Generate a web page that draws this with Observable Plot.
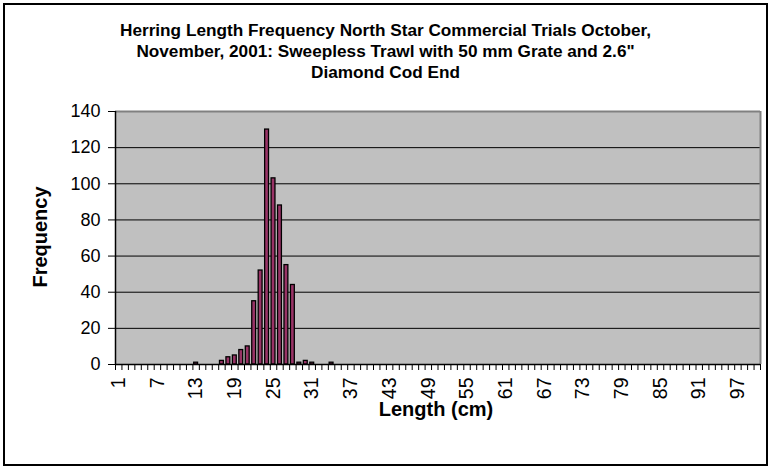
<!DOCTYPE html>
<html><head><meta charset="utf-8">
<script src="https://cdn.jsdelivr.net/npm/d3@7"></script>
<script src="https://cdn.jsdelivr.net/npm/@observablehq/plot@0.6"></script>
<style>
body{margin:0;background:#fff;}
#wrap{position:relative;width:771px;height:469px;font-family:Arial,"Liberation Sans",sans-serif;color:#000;overflow:hidden;}
#chart{position:absolute;left:0;top:0;}
#border{position:absolute;left:3px;top:3px;width:761px;height:459px;border:2px solid #000;pointer-events:none;}
.title{position:absolute;left:0;width:771px;text-align:center;font-weight:bold;font-size:17.2px;line-height:21px;}
.ylab{position:absolute;left:40px;top:237px;transform:translate(-50%,-50%) rotate(-90deg);font-weight:bold;font-size:20px;white-space:nowrap;}
.xlab{position:absolute;left:436px;top:409px;transform:translate(-50%,-50%);font-weight:bold;font-size:20px;white-space:nowrap;}
</style></head>
<body>
<div id="wrap">
  <div id="chart"></div>
  <div id="border"></div>
  <div class="title" style="top:20px">Herring Length Frequency North Star Commercial Trials October,</div>
  <div class="title" style="top:41px">November, 2001: Sweepless Trawl with 50 mm Grate and 2.6"</div>
  <div class="title" style="top:62px">Diamond Cod End</div>
  <div class="ylab">Frequency</div>
  <div class="xlab">Length (cm)</div>
</div>
<script>
// Length categories (cm) with non-zero counts, and their frequencies
const lengths = [13, 17, 18, 19, 20, 21, 22, 23, 24, 25, 26, 27, 28, 29, 30, 31, 34];
const frequency = [1, 2, 4, 5, 8, 10, 35, 52, 130, 103, 88, 55, 44, 1, 2, 1, 1];
// Category axis runs 1..100; labels every sixth category
const xFirst = 1, xLast = 100;
const xTickLabels = [1, 7, 13, 19, 25, 31, 37, 43, 49, 55, 61, 67, 73, 79, 85, 91, 97];
const yTicks = [0, 20, 40, 60, 80, 100, 120, 140];

const data = lengths.map((l, i) => ({length: l, freq: frequency[i]}));
const boundaries = d3.range(xFirst - 0.5, xLast + 1, 1);

const chart = Plot.plot({
  width: 771,
  height: 469,
  marginLeft: 115,
  marginRight: 11,
  marginTop: 111,
  marginBottom: 105,
  style: {fontFamily: "Arial, 'Liberation Sans', sans-serif", fontSize: "18px", color: "#000", background: "transparent"},
  x: {domain: [xFirst - 0.5, xLast + 0.5]},
  y: {domain: [0, 140]},
  marks: [
    Plot.frame({fill: "#c0c0c0"}),
    Plot.ruleY(yTicks.filter(v => v > 0 && v < 140), {stroke: "#000", strokeWidth: 1}),
    Plot.rectY(data, {x1: d => d.length - 0.3, x2: d => d.length + 0.3, y: "freq", fill: "#993366", stroke: "#000", strokeWidth: 1.3}),
    Plot.ruleY([140], {stroke: "#808080", strokeWidth: 2}),
    Plot.ruleX([xLast + 0.5], {stroke: "#808080", strokeWidth: 2}),
    Plot.ruleX([xFirst - 0.5], {stroke: "#000", strokeWidth: 1.5}),
    Plot.ruleY([0], {stroke: "#000", strokeWidth: 1.5}),
    Plot.axisY({ticks: yTicks, tickSize: 7, tickPadding: 8, label: null, fontSize: 18}),
    Plot.axisX({ticks: boundaries, tickSize: 6, tickFormat: () => "", label: null}),
    Plot.axisX({ticks: xTickLabels, tickSize: 0, tickRotate: -90, tickPadding: 13, label: null, fontSize: 19.5})
  ]
});
document.getElementById("chart").appendChild(chart);
</script>
</body></html>
